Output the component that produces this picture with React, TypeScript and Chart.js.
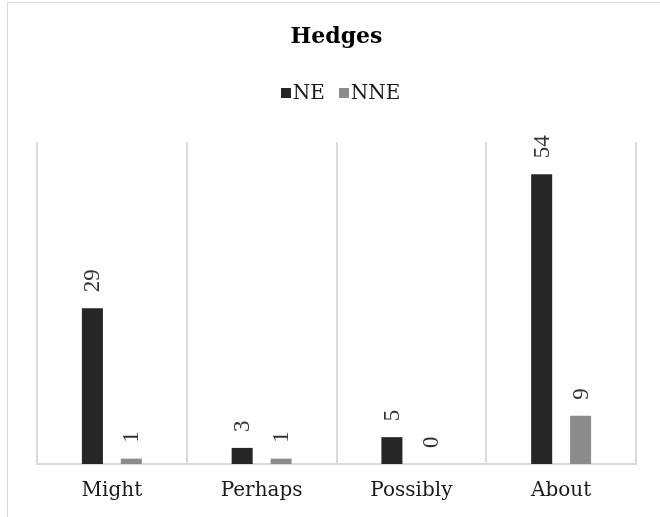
import React, { useEffect, useRef } from "react";
import { Chart, registerables } from "chart.js";

Chart.register(...registerables);

// Chart data
const categories = ["Might", "Perhaps", "Possibly", "About"];
const seriesNames = ["NE", "NNE"];
const neValues = [29, 3, 5, 54];
const nneValues = [1, 1, 0, 9];
const yAxisMax = 60;

const seriesColors = ["#262626", "#8c8c8c"];
const FONT = "'DejaVu Serif', serif";
const LABEL_FONT = "'Liberation Serif', serif";
const TEXT = "#1a1a1a";
const GRID = "#dadada";

// Light grey outline around the whole chart
const framePlugin = {
  id: "frame",
  beforeDraw(chart: any) {
    const { ctx } = chart;
    ctx.save();
    ctx.fillStyle = "#ffffff";
    ctx.fillRect(0, 0, chart.width, chart.height);
    ctx.strokeStyle = GRID;
    ctx.lineWidth = 1;
    ctx.strokeRect(7.5, 2.5, chart.width + 50, chart.height + 50);
    ctx.restore();
  },
};

// Compact legend: small square swatch directly followed by the series name
const swatchLegendPlugin = {
  id: "swatchLegend",
  afterDraw(chart: any) {
    const { ctx, chartArea } = chart;
    const box = 10;
    const gap = 2;
    const spacing = 14;
    const centerY = 93;
    ctx.save();
    ctx.font = `20px ${FONT}`;
    ctx.textBaseline = "middle";
    ctx.textAlign = "left";
    const items = chart.data.datasets.map((ds: any) => ({
      label: ds.label as string,
      color: ds.backgroundColor as string,
      w: ctx.measureText(ds.label).width,
    }));
    const total =
      items.reduce((s: number, it: any) => s + box + gap + it.w, 0) +
      spacing * (items.length - 1);
    let x = (chartArea.left + chartArea.right) / 2 + 4 - total / 2;
    items.forEach((it: any) => {
      ctx.fillStyle = it.color;
      ctx.fillRect(Math.round(x), centerY - 5, box, box);
      ctx.fillStyle = TEXT;
      ctx.fillText(it.label, x + box + gap, centerY + 1);
      x += box + gap + it.w + spacing;
    });
    ctx.restore();
  },
};

// Vertical value labels above each bar
const valueLabelPlugin = {
  id: "valueLabels",
  afterDatasetsDraw(chart: any) {
    const { ctx } = chart;
    ctx.save();
    ctx.font = `23px ${LABEL_FONT}`;
    ctx.fillStyle = "#333333";
    ctx.textAlign = "left";
    ctx.textBaseline = "middle";
    chart.data.datasets.forEach((ds: any, i: number) => {
      const meta = chart.getDatasetMeta(i);
      meta.data.forEach((bar: any, j: number) => {
        ctx.save();
        ctx.translate(bar.x + 1, bar.y - 16);
        ctx.rotate(-Math.PI / 2);
        ctx.fillText(String(ds.data[j]), 0, 0);
        ctx.restore();
      });
    });
    ctx.restore();
  },
};

export default function App() {
  const canvasRef = useRef<HTMLCanvasElement | null>(null);

  useEffect(() => {
    const canvas = canvasRef.current;
    if (!canvas) return;
    const chart = new Chart(canvas, {
      type: "bar",
      data: {
        labels: categories,
        datasets: [
          {
            label: seriesNames[0],
            data: neValues,
            backgroundColor: seriesColors[0],
            categoryPercentage: 0.52,
            barPercentage: 0.54,
          },
          {
            label: seriesNames[1],
            data: nneValues,
            backgroundColor: seriesColors[1],
            categoryPercentage: 0.52,
            barPercentage: 0.54,
          },
        ],
      },
      options: {
        responsive: false,
        animation: false,
        devicePixelRatio: 1,
        layout: { padding: { left: 37, right: 24, top: 0, bottom: 0 } },
        plugins: {
          legend: { display: false },
          tooltip: { enabled: false },
          title: {
            display: true,
            text: "Hedges",
            color: "#000000",
            font: { family: FONT, size: 22, weight: "bold", lineHeight: 1.2 },
            padding: { top: 24, bottom: 91.6 },
          },
        },
        scales: {
          x: {
            grid: {
              display: true,
              color: GRID,
              lineWidth: 2,
              drawTicks: false,
              offset: true,
            },
            border: { display: true, color: GRID, width: 2 },
            ticks: {
              color: TEXT,
              font: { family: FONT, size: 20, lineHeight: 1.2 },
              padding: 15,
              maxRotation: 0,
            },
            afterFit(scale: any) {
              scale.height = 53;
            },
          },
          y: {
            display: false,
            min: 0,
            max: yAxisMax,
          },
        },
      },
      plugins: [framePlugin, swatchLegendPlugin, valueLabelPlugin],
    });
    return () => chart.destroy();
  }, []);

  return (
    <div style={{ position: "fixed", left: 0, top: 0, width: 660, height: 517 }}>
      <canvas ref={canvasRef} width={660} height={517} />
    </div>
  );
}
